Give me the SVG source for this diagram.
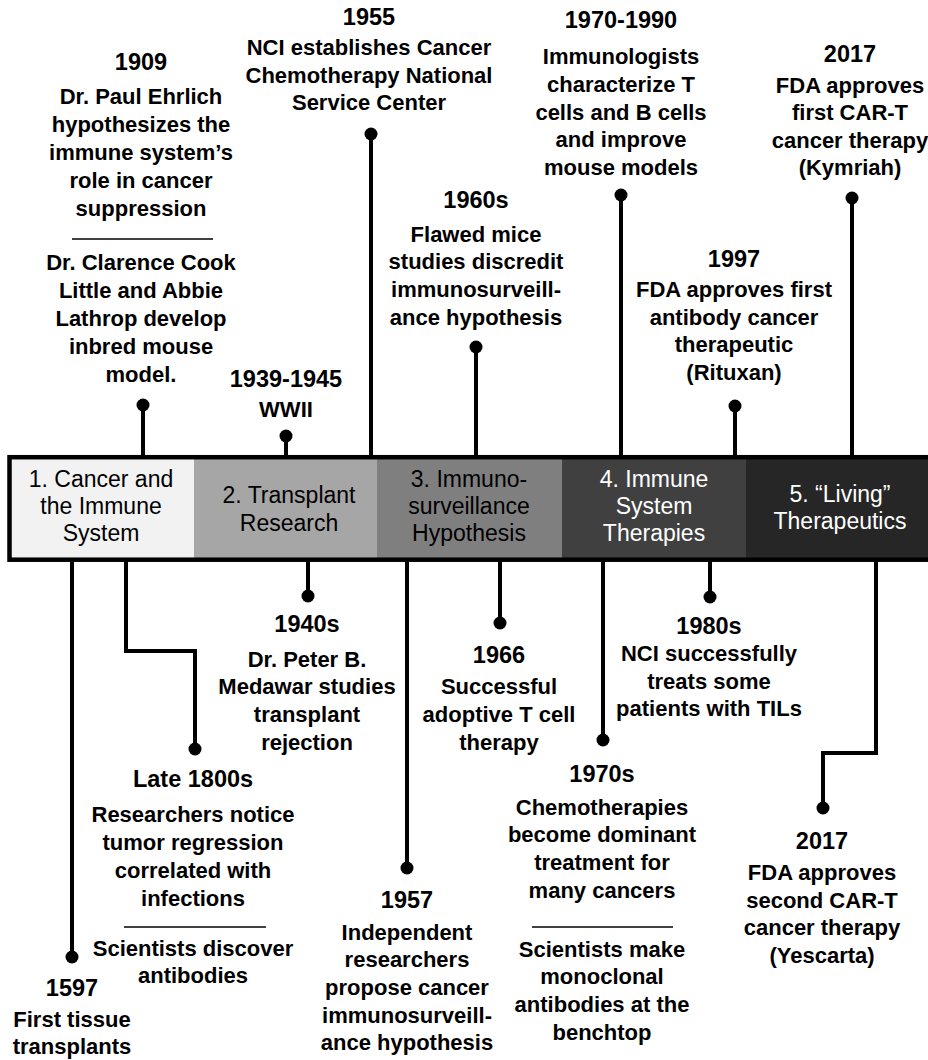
<svg xmlns="http://www.w3.org/2000/svg" width="928" height="1060" viewBox="0 0 928 1060">
<style>
.yr{font-family:"Liberation Sans",Arial,sans-serif;font-weight:bold;font-size:23.5px;fill:#000;text-anchor:middle}
.ds{font-family:"Liberation Sans",Arial,sans-serif;font-weight:bold;font-size:22px;fill:#000;text-anchor:middle}
.sg{font-family:"Liberation Sans",Arial,sans-serif;font-size:23px;text-anchor:middle}
.cn{fill:none;stroke:#000;stroke-width:4}
.dot{fill:#000}
.dv{stroke:#000;stroke-width:1.5}
</style>
<rect width="928" height="1060" fill="#fff"/>
<g id="bar">
<rect x="9" y="457" width="185" height="103" fill="#f2f2f2"/>
<rect x="194" y="457" width="183" height="103" fill="#a6a6a6"/>
<rect x="377" y="457" width="185" height="103" fill="#7f7f7f"/>
<rect x="562" y="457" width="184" height="103" fill="#404040"/>
<rect x="746" y="457" width="190" height="103" fill="#262626"/>
<rect x="9.5" y="457.2" width="925" height="102.5" fill="none" stroke="#000" stroke-width="4.5"/>
</g>
<g id="seg1"><text class="sg" fill="#000"><tspan x="101" y="487">1. Cancer and</tspan><tspan x="101" y="514">the Immune</tspan><tspan x="101" y="541">System</tspan></text></g>
<g id="seg2"><text class="sg" fill="#000"><tspan x="289" y="503">2. Transplant</tspan><tspan x="289" y="531">Research</tspan></text></g>
<g id="seg3"><text class="sg" fill="#000"><tspan x="469" y="487">3. Immuno-</tspan><tspan x="469" y="514">surveillance</tspan><tspan x="469" y="541">Hypothesis</tspan></text></g>
<g id="seg4"><text class="sg" fill="#fff"><tspan x="654" y="487">4. Immune</tspan><tspan x="654" y="514">System</tspan><tspan x="654" y="541">Therapies</tspan></text></g>
<g id="seg5"><text class="sg" fill="#fff"><tspan x="840" y="502">5. “Living”</tspan><tspan x="840" y="529">Therapeutics</tspan></text></g>

<g id="connectors">
<path class="cn" d="M143 405V457"/><circle class="dot" cx="143" cy="405" r="6.5"/>
<path class="cn" d="M286 436V457"/><circle class="dot" cx="286" cy="436" r="6.5"/>
<path class="cn" d="M371 134V457"/><circle class="dot" cx="371" cy="134" r="6.5"/>
<path class="cn" d="M476 347V457"/><circle class="dot" cx="476" cy="347" r="6.5"/>
<path class="cn" d="M621 195V457"/><circle class="dot" cx="621" cy="195" r="6.5"/>
<path class="cn" d="M735 406V457"/><circle class="dot" cx="735" cy="406" r="6.5"/>
<path class="cn" d="M852 198V457"/><circle class="dot" cx="852" cy="198" r="6.5"/>
<path class="cn" d="M72 560V957"/><circle class="dot" cx="72" cy="957" r="6.5"/>
<path class="cn" d="M126 560V651H195V749"/><circle class="dot" cx="195" cy="749" r="6.5"/>
<path class="cn" d="M308 560V596"/><circle class="dot" cx="308" cy="596" r="6.5"/>
<path class="cn" d="M407 560V868"/><circle class="dot" cx="407" cy="868" r="6.5"/>
<path class="cn" d="M500 560V623"/><circle class="dot" cx="500" cy="623" r="6.5"/>
<path class="cn" d="M603 560V740"/><circle class="dot" cx="603" cy="740" r="6.5"/>
<path class="cn" d="M710 560V597"/><circle class="dot" cx="710" cy="597" r="6.5"/>
<path class="cn" d="M876 560V753H823V808"/><circle class="dot" cx="823" cy="808" r="6.5"/>
</g>

<g id="e1909">
<text class="yr" x="141" y="70">1909</text>
<text class="ds"><tspan x="141" y="104">Dr. Paul Ehrlich</tspan><tspan x="141" y="132">hypothesizes the</tspan><tspan x="141" y="160">immune system’s</tspan><tspan x="141" y="188">role in cancer</tspan><tspan x="141" y="216">suppression</tspan></text>
<line class="dv" x1="72" y1="239" x2="213" y2="239"/>
<text class="ds"><tspan x="141" y="270">Dr. Clarence Cook</tspan><tspan x="141" y="298">Little and Abbie</tspan><tspan x="141" y="326">Lathrop develop</tspan><tspan x="141" y="354">inbred mouse</tspan><tspan x="141" y="382">model.</tspan></text>
</g>
<g id="e1939">
<text class="yr" x="286" y="387">1939-1945</text>
<text class="ds" x="286" y="417">WWII</text>
</g>
<g id="e1955">
<text class="yr" x="369" y="25">1955</text>
<text class="ds"><tspan x="369" y="55">NCI establishes Cancer</tspan><tspan x="369" y="83">Chemotherapy National</tspan><tspan x="369" y="110">Service Center</tspan></text>
</g>
<g id="e1960s">
<text class="yr" x="476" y="208">1960s</text>
<text class="ds"><tspan x="476" y="242">Flawed mice</tspan><tspan x="476" y="269">studies discredit</tspan><tspan x="476" y="297">immunosurveill-</tspan><tspan x="476" y="325">ance hypothesis</tspan></text>
</g>
<g id="e1970-1990">
<text class="yr" x="621" y="28">1970-1990</text>
<text class="ds"><tspan x="621" y="64">Immunologists</tspan><tspan x="621" y="92">characterize T</tspan><tspan x="621" y="119.5">cells and B cells</tspan><tspan x="621" y="147">and improve</tspan><tspan x="621" y="175">mouse models</tspan></text>
</g>
<g id="e1997">
<text class="yr" x="734" y="267">1997</text>
<text class="ds"><tspan x="734" y="297">FDA approves first</tspan><tspan x="734" y="325">antibody cancer</tspan><tspan x="734" y="352">therapeutic</tspan><tspan x="734" y="380">(Rituxan)</tspan></text>
</g>
<g id="e2017a">
<text class="yr" x="850" y="62">2017</text>
<text class="ds"><tspan x="850" y="93">FDA approves</tspan><tspan x="850" y="120">first CAR-T</tspan><tspan x="850" y="148">cancer therapy</tspan><tspan x="850" y="175">(Kymriah)</tspan></text>
</g>

<g id="e1597">
<text class="yr" x="72" y="996">1597</text>
<text class="ds"><tspan x="72" y="1027">First tissue</tspan><tspan x="72" y="1054">transplants</tspan></text>
</g>
<g id="eLate1800s">
<text class="yr" x="193" y="787">Late 1800s</text>
<text class="ds"><tspan x="193" y="822">Researchers notice</tspan><tspan x="193" y="850">tumor regression</tspan><tspan x="193" y="878">correlated with</tspan><tspan x="193" y="906">infections</tspan></text>
<line class="dv" x1="124" y1="927" x2="266" y2="927"/>
<text class="ds"><tspan x="193" y="956">Scientists discover</tspan><tspan x="193" y="983">antibodies</tspan></text>
</g>
<g id="e1940s">
<text class="yr" x="307" y="632">1940s</text>
<text class="ds"><tspan x="307" y="667">Dr. Peter B.</tspan><tspan x="307" y="694">Medawar studies</tspan><tspan x="307" y="722">transplant</tspan><tspan x="307" y="750">rejection</tspan></text>
</g>
<g id="e1957">
<text class="yr" x="407" y="908">1957</text>
<text class="ds"><tspan x="407" y="940">Independent</tspan><tspan x="407" y="967">researchers</tspan><tspan x="407" y="995">propose cancer</tspan><tspan x="407" y="1023">immunosurveill-</tspan><tspan x="407" y="1050">ance hypothesis</tspan></text>
</g>
<g id="e1966">
<text class="yr" x="499" y="663">1966</text>
<text class="ds"><tspan x="499" y="694">Successful</tspan><tspan x="499" y="722">adoptive T cell</tspan><tspan x="499" y="750">therapy</tspan></text>
</g>
<g id="e1970s">
<text class="yr" x="602" y="782">1970s</text>
<text class="ds"><tspan x="602" y="815">Chemotherapies</tspan><tspan x="602" y="842">become dominant</tspan><tspan x="602" y="870">treatment for</tspan><tspan x="602" y="898">many cancers</tspan></text>
<line class="dv" x1="532" y1="927" x2="673" y2="927"/>
<text class="ds"><tspan x="602" y="957">Scientists make</tspan><tspan x="602" y="984">monoclonal</tspan><tspan x="602" y="1012">antibodies at the</tspan><tspan x="602" y="1040">benchtop</tspan></text>
</g>
<g id="e1980s">
<text class="yr" x="709" y="634">1980s</text>
<text class="ds"><tspan x="709" y="661">NCI successfully</tspan><tspan x="709" y="688.5">treats some</tspan><tspan x="709" y="716">patients with TILs</tspan></text>
</g>
<g id="e2017b">
<text class="yr" x="822" y="849">2017</text>
<text class="ds"><tspan x="822" y="880">FDA approves</tspan><tspan x="822" y="908">second CAR-T</tspan><tspan x="822" y="935">cancer therapy</tspan><tspan x="822" y="963">(Yescarta)</tspan></text>
</g>
</svg>
